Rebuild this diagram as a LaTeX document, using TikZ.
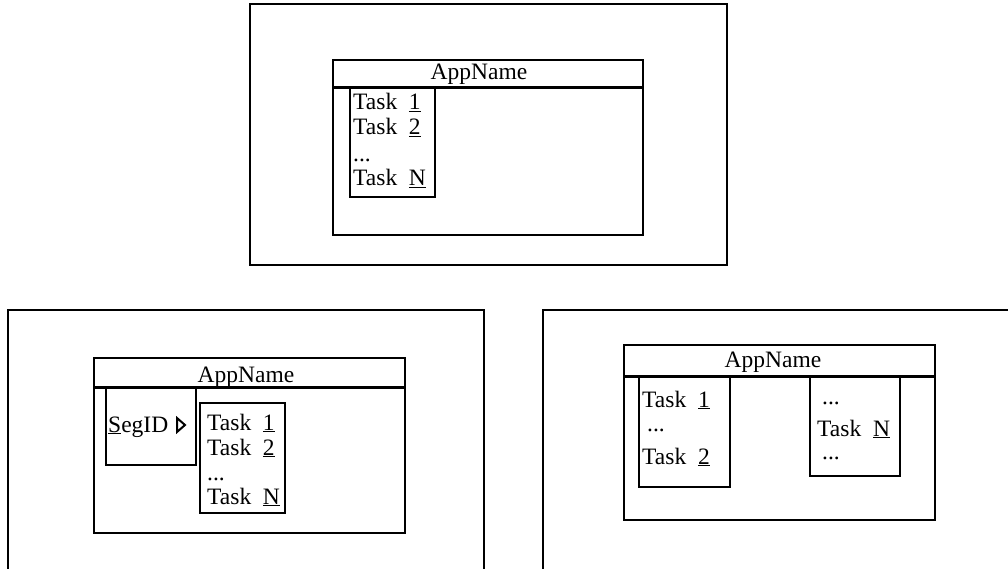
\documentclass[tikz,border=0pt]{standalone}
\usepackage{fontspec}
\setmainfont{Liberation Serif}
\usetikzlibrary{positioning}
\tikzset{%
   % plain rectangles of the layout
   frame/.style={draw, line width=2pt},
   % the rule under an application name
   header/.style={line width=3pt},
   lbl/.style={inner sep=0pt, anchor=base west, font=\fontsize{23.5}{25}\selectfont},
   appname/.style={inner sep=0pt, anchor=base, font=\fontsize{23.5}{25}\selectfont},
   pointer/.style={draw, line width=2pt, line join=miter},
}
\newcommand{\tsk}[1]{Task\hspace{0.5em}\underline{#1}}

\begin{document}
\begin{tikzpicture}[x=1pt, y=-1pt]
   \useasboundingbox (0,0) rectangle (1008,569);
   % top: one segment
   \draw[frame] (250,4) rectangle (727,265);
   \draw[frame] (333,60) rectangle (643,235);
   \draw[header] (333,88) -- (643,88);
   \draw[frame] (350,88) rectangle (435,197);
   \node[appname] (topName) at (479,80) {AppName};
   \node[lbl] (topT1) at (353,110) {\tsk{1}};
   \node[lbl] (topT2) at (353,135) {\tsk{2}};
   \node[lbl] (topDots) at (353,162) {...};
   \node[lbl] (topTN) at (353,186) {\tsk{N}};
   % bottom left: segment with SegID
   \draw[frame] (8,310) rectangle (484,585);
   \draw[frame] (94,358) rectangle (405,533);
   \draw[header] (94,387) -- (405,387);
   \draw[frame] (106,387) rectangle (196,465);
   \draw[frame] (200,403) rectangle (285,513);
   \node[appname] (leftName) at (246,382) {AppName};
   \node[lbl] (segID) at (108,432) {\underline{S}egID};
   \draw[pointer] (177,418) -- (185,425) -- (177,432) -- cycle;
   \node[lbl] (leftT1) at (207,430) {\tsk{1}};
   \node[lbl] (leftT2) at (207,455) {\tsk{2}};
   \node[lbl] (leftDots) at (207,480) {...};
   \node[lbl] (leftTN) at (207,504) {\tsk{N}};
   % bottom right: tasks split over two segments
   \draw[frame] (543,310) rectangle (1020,585);
   \draw[frame] (624,345) rectangle (935,520);
   \draw[header] (624,376) -- (935,376);
   \draw[frame] (639,377) rectangle (730,487);
   \draw[frame] (810,377) rectangle (900,476);
   \node[appname] (rightName) at (773,367) {AppName};
   \node[lbl] (rightT1) at (642,407) {\tsk{1}};
   \node[lbl] (rightDots) at (647,431) {...};
   \node[lbl] (rightT2) at (642,464) {\tsk{2}};
   \node[lbl] (rightDotsA) at (822,404) {...};
   \node[lbl] (rightTN) at (817,436) {\tsk{N}};
   \node[lbl] (rightDotsB) at (822,459) {...};
\end{tikzpicture}
\end{document}
